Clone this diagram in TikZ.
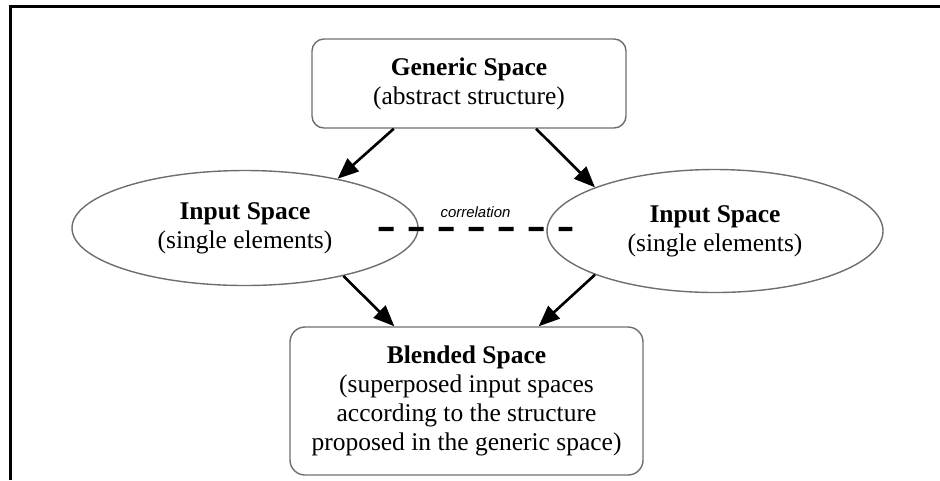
\documentclass[tikz,border=0pt]{standalone}
\usepackage{fontspec}
\setmainfont{Liberation Serif}
\newfontfamily\corrfont{Liberation Sans}
\usetikzlibrary{arrows.meta, positioning, shapes.geometric, calc}
\definecolor{edgegray}{RGB}{110,110,110}

\begin{document}
\begin{tikzpicture}[
    spacebox/.style={draw=edgegray, line width=0.8pt, rounded corners=0.24cm, align=center, inner sep=0pt, font=\fontsize{14.5}{16.5}\selectfont},
    spaceoval/.style={draw=edgegray, line width=0.8pt, ellipse, align=center, inner sep=0pt, font=\fontsize{14.5}{16.5}\selectfont},
    maparrow/.style={-{Triangle[length=0.42cm, width=0.34cm]}, line width=1.5pt}
]
    \useasboundingbox (0,0) rectangle (18.8,-9.6);
    % frame, only top and left edge
    \draw[line width=1.7pt] (0.21,-9.6) -- (0.21,-0.13) -- (18.8,-0.13);

    % generic space
    \node[spacebox, minimum width=6.28cm, minimum height=1.78cm] (gen) at (9.38,-1.67)
        {\textbf{Generic Space}\\(abstract structure)};

    % the two input spaces
    \node[spaceoval, minimum width=6.92cm, minimum height=2.3cm] (inL) at (4.9,-4.56)
        {\textbf{Input Space}\\(single elements)};
    \node[spaceoval, minimum width=6.72cm, minimum height=2.46cm] (inR) at (14.3,-4.62)
        {\textbf{Input Space}\\(single elements)};

    % blended space
    \node[spacebox, rounded corners=0.3cm, minimum width=7.06cm, minimum height=2.96cm] (blend) at (9.33,-8.02)
        {\textbf{Blended Space}\\(superposed input spaces\\according to the structure\\proposed in the generic space)};

    % correlation between inputs
    \draw[line width=2.3pt, dash pattern=on 0.3cm off 0.3cm]
        ($(inL.east)+(-0.8,-0.02)$) -- ($(inR.west)+(0.52,0.04)$)
        node[midway, yshift=0.34cm, font=\corrfont\itshape\fontsize{8.5}{10}\selectfont] (corrlabel) {correlation};

    % projections
    \draw[maparrow] (gen.211) -- (inL.28);
    \draw[maparrow] (gen.326) -- (inR.160);
    \draw[maparrow] (inL.-26) -- (blend.134);
    \draw[maparrow] (inR.200) -- (blend.46);
\end{tikzpicture}
\end{document}
